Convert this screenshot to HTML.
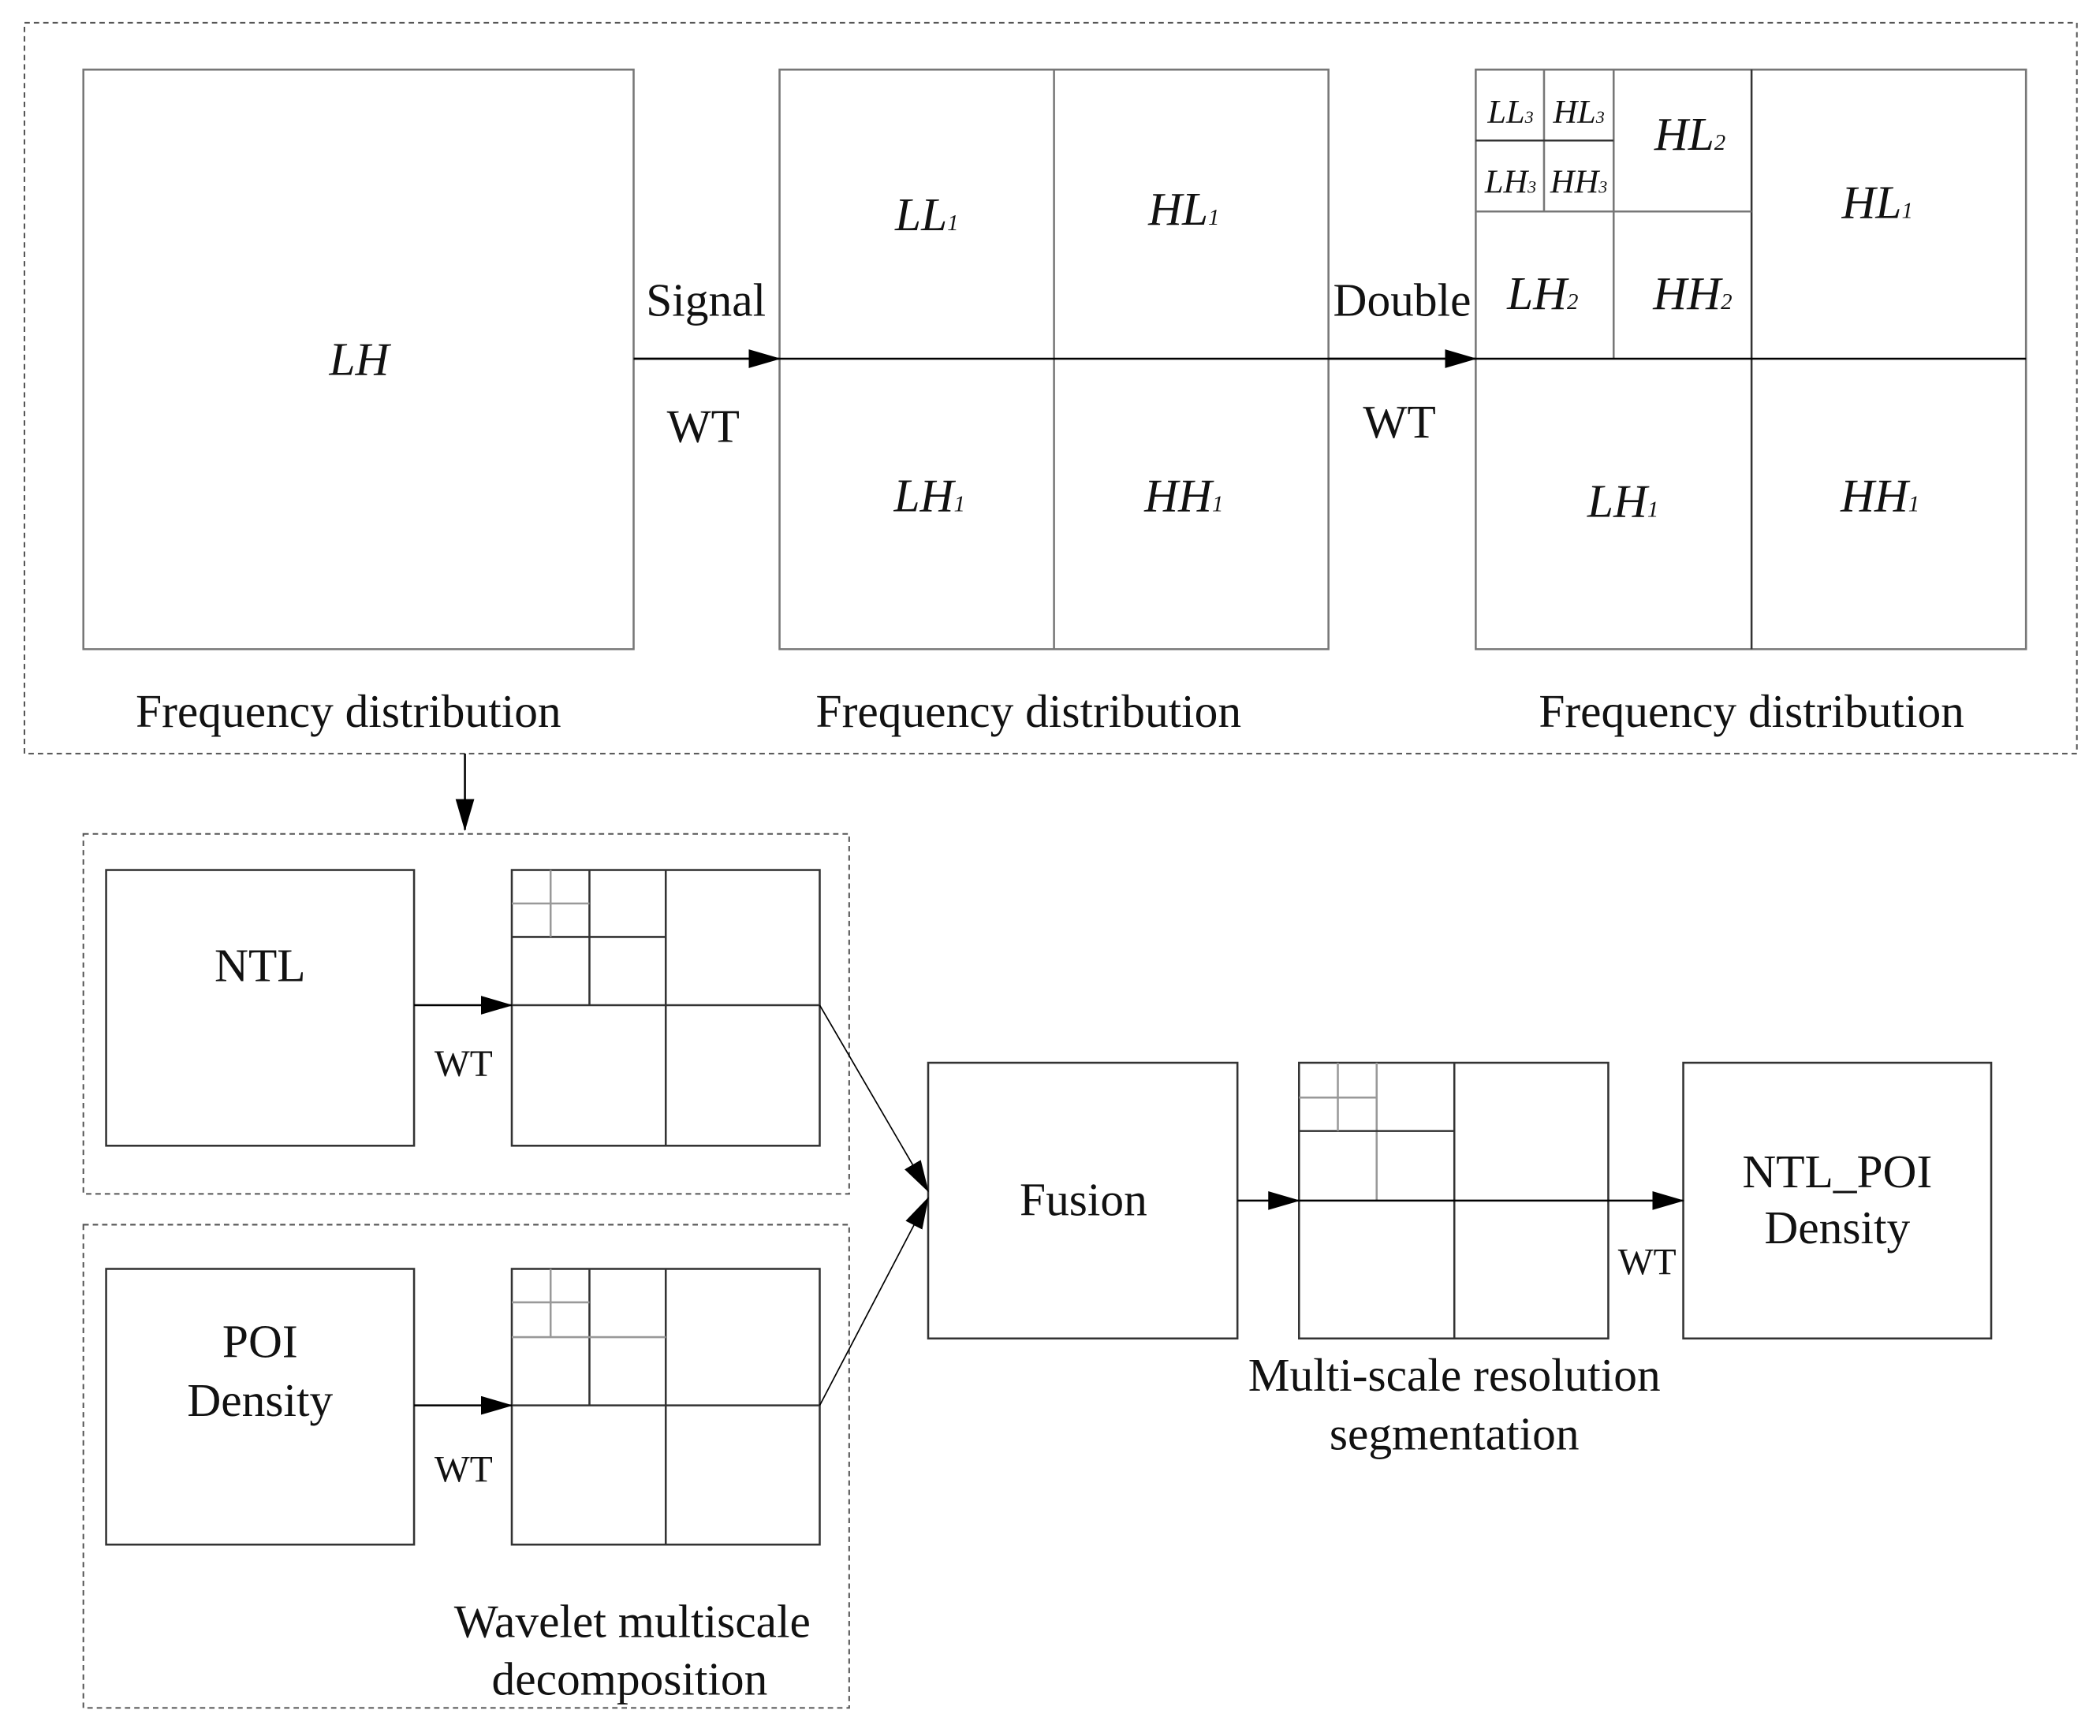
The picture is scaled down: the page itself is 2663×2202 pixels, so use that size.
<!DOCTYPE html>
<html><head><meta charset="utf-8"><style>
html,body{margin:0;padding:0;background:#fff;}
svg{display:block;}
text{font-family:"Liberation Serif",serif;fill:#111;}
</style></head><body>
<svg width="2663" height="2202" viewBox="0 0 1568 1297" xmlns="http://www.w3.org/2000/svg">
<defs>
<marker id="b" markerWidth="24" markerHeight="14" refX="23" refY="7" orient="auto" markerUnits="userSpaceOnUse"><path d="M0,0 L24,7 L0,14 z" fill="#000"/></marker></defs>
<g fill="none" stroke="#555" stroke-width="1.2" stroke-dasharray="4,3">
<rect x="18" y="17" width="1533" height="546"/>
<rect x="62" y="623" width="572" height="269"/>
<rect x="62" y="915" width="572" height="361"/>
</g>
<g fill="none" stroke="#777" stroke-width="1.5">
<rect x="62" y="52" width="411" height="433"/>
<rect x="582" y="52" width="410" height="433"/>
<line x1="787" y1="52" x2="787" y2="485"/>
<rect x="1102" y="52" width="411" height="433"/>
<line x1="1308" y1="52" x2="1308" y2="485" stroke="#333"/>
<line x1="1205" y1="52" x2="1205" y2="268"/>
<line x1="1102" y1="158" x2="1308" y2="158"/>
<line x1="1153" y1="52" x2="1153" y2="158"/>
<line x1="1102" y1="105" x2="1205" y2="105" stroke="#333"/>
</g>
<g fill="none" stroke="#333" stroke-width="1.5">
<rect x="79" y="650" width="230" height="206"/>
<rect x="382" y="650" width="230" height="206"/>
<line x1="497" y1="650" x2="497" y2="856"/><line x1="382" y1="751" x2="612" y2="751"/>
<line x1="440" y1="650" x2="440" y2="751"/><line x1="382" y1="700" x2="497" y2="700"/>
<line x1="411" y1="650" x2="411" y2="700" stroke="#999"/><line x1="382" y1="675" x2="440" y2="675" stroke="#999"/>
<rect x="79" y="948" width="230" height="206"/>
<rect x="382" y="948" width="230" height="206"/>
<line x1="497" y1="948" x2="497" y2="1154"/><line x1="382" y1="1050" x2="612" y2="1050"/>
<line x1="440" y1="948" x2="440" y2="1050"/><line x1="382" y1="999" x2="497" y2="999" stroke="#999"/>
<line x1="411" y1="948" x2="411" y2="999" stroke="#999"/><line x1="382" y1="973" x2="440" y2="973" stroke="#999"/>
<rect x="693" y="794" width="231" height="206"/>
<rect x="970" y="794" width="231" height="206"/>
<line x1="1086" y1="794" x2="1086" y2="1000"/>
<line x1="1028" y1="794" x2="1028" y2="897" stroke="#999"/><line x1="970" y1="845" x2="1086" y2="845"/>
<line x1="999" y1="794" x2="999" y2="845" stroke="#999"/><line x1="970" y1="820" x2="1028" y2="820" stroke="#999"/>
<rect x="1257" y="794" width="230" height="206"/>
</g>
<g stroke="#000" stroke-width="1.5" fill="none">
<line x1="473" y1="268" x2="992" y2="268"/>
<line x1="473" y1="268" x2="582" y2="268" marker-end="url(#b)"/>
<line x1="992" y1="268" x2="1513" y2="268"/>
<line x1="992" y1="268" x2="1102" y2="268" marker-end="url(#b)"/>
<line x1="347" y1="563" x2="347" y2="620" marker-end="url(#b)"/>
<line x1="309" y1="751" x2="382" y2="751" marker-end="url(#b)"/>
<line x1="309" y1="1050" x2="382" y2="1050" marker-end="url(#b)"/>
<line x1="612" y1="751" x2="693" y2="890" stroke-width="1" marker-end="url(#b)"/>
<line x1="612" y1="1050" x2="693" y2="895" stroke-width="1" marker-end="url(#b)"/>
<line x1="924" y1="897" x2="970" y2="897" marker-end="url(#b)"/>
<line x1="970" y1="897" x2="1257" y2="897" marker-end="url(#b)"/>
</g>
<g font-size="35" text-anchor="middle">
<text x="268" y="280" font-style="italic">LH</text>
<text x="692" y="172" font-style="italic">LL<tspan font-size="17">1</tspan></text>
<text x="884" y="168" font-style="italic">HL<tspan font-size="17">1</tspan></text>
<text x="694" y="382" font-style="italic">LH<tspan font-size="17">1</tspan></text>
<text x="884" y="382" font-style="italic">HH<tspan font-size="17">1</tspan></text>
<text x="1262" y="112" font-style="italic">HL<tspan font-size="17">2</tspan></text>
<text x="1402" y="163" font-style="italic">HL<tspan font-size="17">1</tspan></text>
<text x="1152" y="231" font-style="italic">LH<tspan font-size="17">2</tspan></text>
<text x="1264" y="231" font-style="italic">HH<tspan font-size="17">2</tspan></text>
<text x="1212" y="386" font-style="italic">LH<tspan font-size="17">1</tspan></text>
<text x="1404" y="382" font-style="italic">HH<tspan font-size="17">1</tspan></text>
<text x="527" y="236">Signal</text>
<text x="525" y="330">WT</text>
<text x="1047" y="236">Double</text>
<text x="1045" y="327">WT</text>
<text x="260" y="543">Frequency distribution</text>
<text x="768" y="543">Frequency distribution</text>
<text x="1308" y="543">Frequency distribution</text>
<text x="194" y="733">NTL</text>
<text x="194" y="1014">POI</text>
<text x="194" y="1058">Density</text>
<text x="472" y="1223">Wavelet multiscale</text>
<text x="470" y="1266">decomposition</text>
<text x="809" y="908">Fusion</text>
<text x="1372" y="887">NTL_POI</text>
<text x="1372" y="929">Density</text>
<text x="1086" y="1039">Multi-scale resolution</text>
<text x="1086" y="1083">segmentation</text>
</g>
<g font-size="28" text-anchor="middle">
<text x="346" y="804">WT</text>
<text x="346" y="1107">WT</text>
<text x="1230" y="952">WT</text>
</g>
<g font-size="25" font-style="italic" text-anchor="middle">
<text x="1128" y="92">LL<tspan font-size="13">3</tspan></text>
<text x="1179" y="92">HL<tspan font-size="13">3</tspan></text>
<text x="1128" y="144">LH<tspan font-size="13">3</tspan></text>
<text x="1179" y="144">HH<tspan font-size="13">3</tspan></text>
</g>
</svg>
</body></html>
